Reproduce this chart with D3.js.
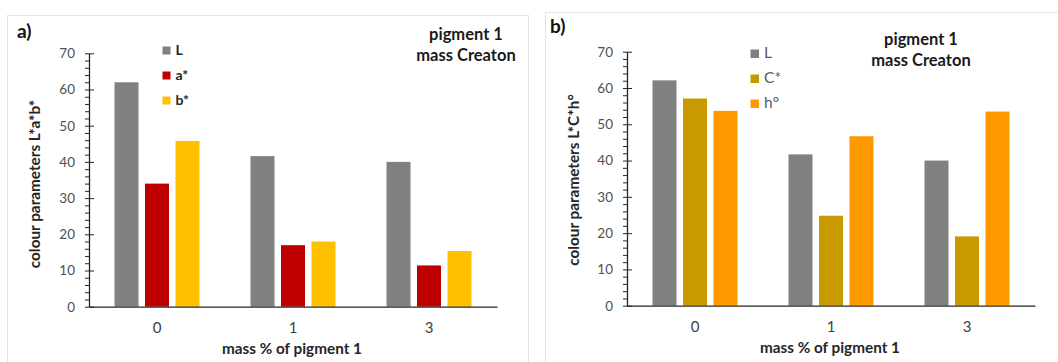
<!DOCTYPE html>
<html>
<head>
<meta charset="utf-8">
<script src="https://cdn.jsdelivr.net/npm/d3@7"></script>
<style>
  html, body { margin: 0; padding: 0; background: #fff; }
  svg { display: block; }
  text { font-family: Lato, "Open Sans", sans-serif; }
</style>
</head>
<body>
<svg id="chart" width="1058" height="362"></svg>
<script>
// ---- data ----
const categories = ["0", "1", "3"];
const yTickValues = [0, 10, 20, 30, 40, 50, 60, 70];

const seriesNamesA = ["L", "a*", "b*"];
const valuesA_L = [62.0, 41.6, 40.0];
const valuesA_a = [34.0, 17.0, 11.4];
const valuesA_b = [45.8, 18.0, 15.4];

const seriesNamesB = ["L", "C*", "h°"];
const valuesB_L = [62.1, 41.7, 40.0];
const valuesB_C = [57.1, 24.8, 19.1];
const valuesB_h = [53.7, 46.7, 53.5];

const colorsA = ["#808080", "#C00000", "#FFC000"];
const colorsB = ["#808080", "#C99A00", "#FF9900"];

const svg = d3.select("#chart");

// panel frames
svg.append("rect").attr("x", 7.5).attr("y", 15.5).attr("width", 521).attr("height", 360)
  .attr("fill", "none").attr("stroke", "#e3e3e3");
svg.append("rect").attr("x", 545.5).attr("y", 12.5).attr("width", 530).attr("height", 360)
  .attr("fill", "none").attr("stroke", "#e3e3e3");

function drawPanel(cfg) {
  const g = svg.append("g");
  const x = d3.scaleBand().domain(categories).range([cfg.x0, cfg.x1]).paddingInner(0).paddingOuter(0);
  const xs = d3.scaleBand().domain(cfg.names).range([0, x.bandwidth()])
    .paddingInner(0.213).paddingOuter(0.836);
  const y = d3.scaleLinear().domain([0, 70]).range([cfg.yb, cfg.yt]);

  // bars
  cfg.series.forEach((vals, si) => {
    g.append("g").selectAll("rect").data(vals).join("rect")
      .attr("x", (d, i) => x(categories[i]) + xs(cfg.names[si]))
      .attr("width", xs.bandwidth())
      .attr("y", d => y(d))
      .attr("height", d => y(0) - y(d))
      .attr("fill", cfg.colors[si]);
  });

  // minor ticks (left only)
  const minor = d3.range(0, 71, 2).filter(v => v % 10 !== 0);
  g.append("g").attr("transform", `translate(${cfg.x0},0)`)
    .call(d3.axisLeft(y).tickValues(minor).tickSize(4).tickSizeOuter(0).tickFormat(""))
    .call(a => a.select(".domain").remove())
    .call(a => a.selectAll("line").attr("stroke", "#262626"));
  // major ticks right part
  g.append("g").attr("transform", `translate(${cfg.x0},0)`)
    .call(d3.axisRight(y).tickValues(yTickValues).tickSize(5).tickSizeOuter(0).tickFormat(""))
    .call(a => a.select(".domain").remove())
    .call(a => a.selectAll("line").attr("stroke", "#262626"));
  // major ticks left + labels + axis line
  g.append("g").attr("transform", `translate(${cfg.x0},0)`)
    .call(d3.axisLeft(y).tickValues(yTickValues).tickSize(4).tickSizeOuter(0).tickPadding(10))
    .call(a => a.select(".domain").attr("stroke", "#262626").attr("stroke-width", 1.3))
    .call(a => a.selectAll("line").attr("stroke", "#262626"))
    .call(a => a.selectAll("text").attr("fill", "#505050").attr("font-size", 13.5)
      .attr("font-family", "Lato, sans-serif"));

  // x axis
  g.append("g").attr("transform", `translate(0,${cfg.yb})`)
    .call(d3.axisBottom(x).tickSize(0).tickSizeOuter(0).tickPadding(16))
    .call(a => a.select(".domain").attr("stroke", "#262626").attr("stroke-width", 1.3))
    .call(a => a.selectAll("text").attr("fill", "#404040").attr("font-size", 15)
      .attr("font-family", "Lato, sans-serif"));

  // x title
  g.append("text").attr("x", (cfg.x0 + cfg.x1) / 2 - 1).attr("y", cfg.yb + 47)
    .attr("text-anchor", "middle").attr("font-weight", "bold").attr("font-size", 15.3)
    .attr("fill", "#262626").text("mass % of pigment 1");

  // y title
  g.append("text").attr("transform", `translate(${cfg.ytx},${cfg.yty}) rotate(-90)`)
    .attr("text-anchor", "middle").attr("dominant-baseline", "central")
    .attr("font-weight", "bold").attr("font-size", 15.3)
    .attr("fill", "#262626").text(cfg.ytitle);

  // panel label
  g.append("text").attr("x", cfg.lx).attr("y", cfg.ly).attr("font-weight", "bold")
    .attr("font-size", 19).attr("fill", "#111").text(cfg.label);

  // title
  g.append("text").attr("x", cfg.tx).attr("y", cfg.ty).attr("text-anchor", "middle")
    .attr("font-weight", "bold").attr("font-size", 16.5).attr("fill", "#1a1a1a").text("pigment 1");
  g.append("text").attr("x", cfg.tx).attr("y", cfg.ty + 21).attr("text-anchor", "middle")
    .attr("font-weight", "bold").attr("font-size", 16.5).attr("fill", "#1a1a1a").text("mass Creaton");

  // legend
  cfg.names.forEach((n, i) => {
    const yy = cfg.legY + i * 25;
    g.append("rect").attr("x", cfg.legX).attr("y", yy).attr("width", cfg.legS).attr("height", cfg.legS)
      .attr("fill", cfg.colors[i]);
    g.append("text").attr("x", cfg.legX + cfg.legS + 5).attr("y", yy + cfg.legS)
      .attr("font-size", cfg.legFont).attr("font-weight", cfg.legWeight)
      .attr("fill", cfg.legColor).text(n);
  });
}

drawPanel({
  x0: 89, x1: 497, yb: 306.7, yt: 53.3,
  names: seriesNamesA, series: [valuesA_L, valuesA_a, valuesA_b], colors: colorsA,
  ytitle: "colour parameters L*a*b*", ytx: 33.5, yty: 184,
  label: "a)", lx: 17, ly: 38,
  tx: 466, ty: 40,
  legX: 162.5, legY: 46.5, legS: 8, legFont: 14, legWeight: "bold", legColor: "#262626"
});

drawPanel({
  x0: 627, x1: 1035, yb: 305.7, yt: 51.7,
  names: seriesNamesB, series: [valuesB_L, valuesB_C, valuesB_h], colors: colorsB,
  ytitle: "colour parameters L*C*h°", ytx: 573, yty: 180,
  label: "b)", lx: 550, ly: 33,
  tx: 921, ty: 45,
  legX: 750.5, legY: 49.5, legS: 8.5, legFont: 15.5, legWeight: "normal", legColor: "#595959"
});
</script>
</body>
</html>
